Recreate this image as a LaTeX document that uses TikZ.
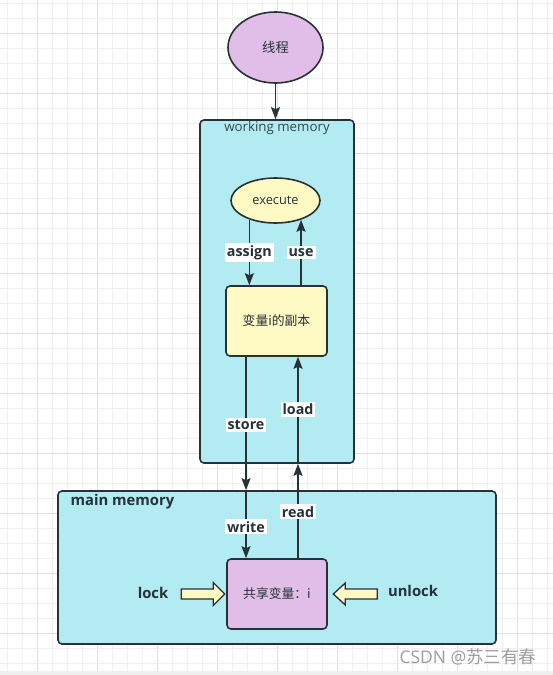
\documentclass[tikz,border=0pt]{standalone}
\usepackage{fontspec}
\setmainfont{Open Sans}
\newfontfamily\cjk{Noto Sans CJK SC}
\usetikzlibrary{shapes.geometric,arrows.meta}
\definecolor{ink}{HTML}{263238}
\definecolor{labink}{HTML}{37474F}
\definecolor{cyanfill}{HTML}{B2EBF2}
\definecolor{purplefill}{HTML}{E1BEE7}
\definecolor{yellowfill}{HTML}{FFF9C4}
\definecolor{gridlight}{HTML}{EFEFEF}
\definecolor{griddark}{HTML}{E0E0E0}
\definecolor{wmark}{HTML}{9E9E9E}
\pgfdeclarelayer{gridlayer}
\pgfdeclarelayer{contlayer}
\pgfdeclarelayer{connlayer}
\pgfsetlayers{gridlayer,contlayer,connlayer,main}
\tikzset{
  container/.style={draw=ink, line width=1.6pt, fill=cyanfill, rounded corners=4pt, inner sep=0pt},
  ellnode/.style={ellipse, draw=ink, line width=1.6pt, inner sep=0pt, text=ink},
  boxnode/.style={draw=ink, line width=1.6pt, rounded corners=4pt, inner sep=0pt, text=ink},
  arr/.style={draw=ink, line width=1.6pt, -{Stealth[length=12pt,width=9pt,inset=2pt]}},
  lab/.style={fill=white, inner sep=2pt, text=ink, font=\bfseries\fontsize{14.3}{14.3}\selectfont},
  blockarrow/.style={draw=ink, line width=1.3pt, fill=yellowfill, line join=miter},
  sidelab/.style={text=ink, font=\bfseries\fontsize{14.8}{14.8}\selectfont},
}
\begin{document}
\begin{tikzpicture}[x=1pt,y=-1pt]
\useasboundingbox (0,0) rectangle (553,675);
\begin{pgfonlayer}{gridlayer}
  \fill[white] (0,0) rectangle (553,675);
  \foreach \i in {0,...,36} {
    \pgfmathtruncatemacro{\m}{mod(\i,4)}
    \ifnum\m=2 \def\gc{griddark}\else\def\gc{gridlight}\fi
    \draw[\gc, line width=0.9pt] (7.5+15*\i,0) -- (7.5+15*\i,675);
  }
  \foreach \j in {0,...,44} {
    \pgfmathtruncatemacro{\m}{mod(\j,4)}
    \ifnum\m=2 \def\gc{griddark}\else\def\gc{gridlight}\fi
    \draw[\gc, line width=0.9pt] (0,3.3+15*\j) -- (553,3.3+15*\j);
  }
  \fill[gridlight] (0,671) rectangle (553,675);
\end{pgfonlayer}

\begin{pgfonlayer}{contlayer}
  \node[container, minimum width=154pt, minimum height=343pt] (wm) at (277,291.5) {};
  \node[container, minimum width=438pt, minimum height=153pt] (mm) at (277,567.5) {};
\end{pgfonlayer}

% labels of containers
\node[text=labink, font=\fontsize{13.3}{13.3}\selectfont] (wmlabel) at (277,128.5) {working memory};
\node[anchor=west, text=ink, font=\bfseries\fontsize{14.8}{14.8}\selectfont] (mmlabel) at (67,501.5) {main memory};

% inner nodes
\node[ellnode, fill=purplefill, minimum width=95pt, minimum height=71pt,
      font=\cjk\fontsize{13.3}{13.3}\selectfont] (th) at (275.5,47.5) {线程};
\node[ellnode, fill=yellowfill, minimum width=89pt, minimum height=45pt,
      font=\fontsize{12.8}{12.8}\selectfont] (ex) at (275.5,200.5) {execute};
\node[boxnode, fill=yellowfill, minimum width=101pt, minimum height=70pt,
      font=\cjk\fontsize{12.8}{12.8}\selectfont] (cp) at (276.5,321) {变量i的副本};
\node[boxnode, fill=purplefill, minimum width=100pt, minimum height=70pt,
      font=\cjk\fontsize{12.8}{12.8}\selectfont] (sh) at (277,594) {共享变量：i};

% connectors
\begin{pgfonlayer}{connlayer}
  \draw[arr] (th.south) -- (th.south |- wm.north);
  \draw[arr] (ex.-144) -- (ex.-144 |- cp.north) node[lab, pos=0.5] (assignlab) {assign};
  \draw[arr] (ex.-37.5 |- cp.north) -- (ex.-37.5) node[lab, pos=0.5] (uselab) {use};
  \draw[arr] ([xshift=-30.5pt]cp.south) -- ([xshift=-30.5pt]cp.south |- mm.north) node[lab, pos=0.51] (storelab) {store};
  \draw[arr] ([xshift=-31pt]sh.north |- mm.north) -- ([xshift=-31pt]sh.north) node[lab, pos=0.54] (writelab) {write};
  \draw[arr] ([xshift=21pt]sh.north) -- ([xshift=21pt]sh.north |- wm.south) node[lab, pos=0.49] (readlab) {read};
  \draw[arr] ([xshift=21.5pt]cp.south |- wm.south) -- ([xshift=21.5pt]cp.south) node[lab, pos=0.51] (loadlab) {load};
\end{pgfonlayer}

% lock / unlock block arrows
\draw[blockarrow] ([xshift=-1.5pt]sh.west) -- ++(-11.5,-11.5) -- ++(0,6.5) -- ++(-32,0) -- ++(0,10) -- ++(32,0) -- ++(0,6.5) -- cycle;
\draw[blockarrow] ([xshift=5.5pt]sh.east) -- ++(12,-11) -- ++(0,6) -- ++(32,0) -- ++(0,10) -- ++(-32,0) -- ++(0,6) -- cycle;
\node[sidelab] (locklab) at (153,593) {lock};
\node[sidelab] (unlocklab) at (413,591) {unlock};

% watermark
\node[text=wmark, font=\fontsize{17.5}{17.5}\selectfont] (wmk) at (468,657) {CSDN @{\cjk 苏三有春}};
\end{tikzpicture}
\end{document}
